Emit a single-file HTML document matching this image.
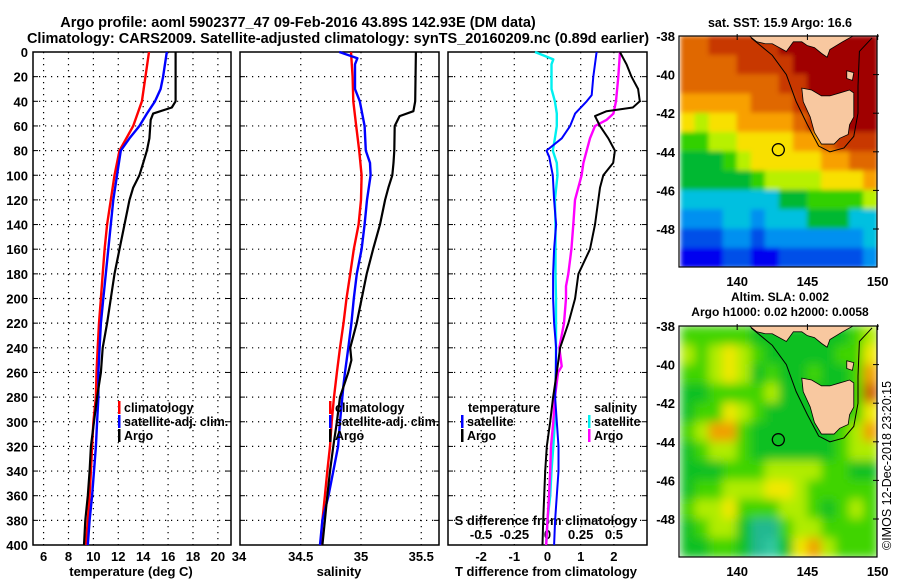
<!DOCTYPE html>
<html><head><meta charset="utf-8">
<style>
html,body{margin:0;padding:0;background:#fff;}
svg{display:block;font-family:"Liberation Sans",Arial,sans-serif;font-weight:bold;}
text{fill:#000;}
</style></head>
<body>
<svg id="fig" width="900" height="580" viewBox="0 0 900 580" xmlns="http://www.w3.org/2000/svg">
<defs>
<filter id="blur2" x="0" y="0" width="1" height="1"><feGaussianBlur stdDeviation="5" edgeMode="duplicate"/></filter>
<filter id="blur1" x="0" y="0" width="1" height="1"><feGaussianBlur stdDeviation="2.5" edgeMode="duplicate"/></filter>
<clipPath id="clipM1"><rect x="679" y="36" width="198" height="231"/></clipPath>
<clipPath id="clipM2"><rect x="679" y="326" width="198" height="231"/></clipPath>
</defs>
<text x="298" y="27" font-size="14.5" text-anchor="middle">Argo profile: aoml 5902377_47 09-Feb-2016 43.89S 142.93E (DM data)</text>
<text x="338" y="43" font-size="14.5" text-anchor="middle">Climatology: CARS2009. Satellite-adjusted climatology: synTS_20160209.nc (0.89d earlier)</text>
<text x="780" y="27" font-size="12.5" text-anchor="middle">sat. SST: 15.9 Argo: 16.6</text>
<text x="780" y="301" font-size="12" text-anchor="middle">Altim. SLA: 0.002</text>
<text x="780" y="316" font-size="12" text-anchor="middle">Argo h1000: 0.02 h2000: 0.0058</text>
<text x="0" y="0" font-size="12.5" transform="translate(891,550) rotate(-90)" font-weight="normal">©IMOS 12-Dec-2018 23:20:15</text>
</svg>
<script>
// ---------- data ----------
const depthTicks = [0,20,40,60,80,100,120,140,160,180,200,220,240,260,280,300,320,340,360,380,400];
const tTicks = [6,8,10,12,14,16,18,20];
const sTicks = [34.5,35,35.5];
const sTickLabels = ["34.5","35","35.5"];
const dTicks = [-2,-1,0,1,2];
const sdTicks = [-0.5,-0.25,0,0.25,0.5];
const sdTickLabels = ["-0.5","-0.25","0","0.25","0.5"];

const climTdep = [0,40,60,80,100,120,140,160,180,200,220,240,260,280,300,320,340,360,380,400];
const climT    = [14.47,13.9,13.2,12.1,11.7,11.4,11.1,10.9,10.75,10.6,10.45,10.35,10.25,10.2,10.0,9.9,9.8,9.7,9.55,9.4];
const satTdep  = [0,20,30,40,50,60,70,80,100,120,140,160,180,200,220,240,260,280,300,320,340,360,380,400];
const satT     = [15.9,15.6,15.4,14.95,14.3,13.7,12.9,12.2,11.9,11.6,11.4,11.2,11.0,10.8,10.6,10.5,10.4,10.4,10.3,10.2,10.05,9.9,9.7,9.55];
const argoTdep = [0,40,45,50,55,70,80,90,100,110,120,140,160,180,200,220,240,260,280,300,320,340,360,380,400];
const argoT    = [16.6,16.6,16.3,14.8,14.6,14.5,14.3,14.0,13.7,13.2,12.9,12.5,12.1,11.7,11.4,11.1,10.75,10.6,10.3,10.05,9.8,9.7,9.55,9.35,9.25];

const climSdep = [0,20,40,60,80,100,120,140,160,180,200,220,240,260,280,300,320,340,360,380,400];
const climS    = [34.917,34.93,34.936,34.96,34.985,35.005,35.0,34.98,34.94,34.91,34.88,34.855,34.826,34.80,34.776,34.757,34.743,34.72,34.70,34.68,34.665];
const satSdep  = [0,5,10,30,40,60,80,90,100,120,140,160,180,200,220,240,260,270,300,320,340,360,380,400];
const satS     = [34.82,34.97,34.95,34.95,34.99,35.03,35.04,35.075,35.08,35.05,35.03,35.005,34.965,34.94,34.92,34.895,34.867,34.855,34.826,34.81,34.77,34.73,34.68,34.66];
const argoSdep = [0,40,48,52,60,80,90,100,110,120,140,160,180,200,220,240,250,260,280,300,320,340,360,380,400];
const argoS    = [35.456,35.45,35.435,35.32,35.28,35.276,35.27,35.26,35.227,35.2,35.158,35.10,35.047,35.006,34.964,34.91,34.92,34.895,34.826,34.80,34.77,34.743,34.72,34.70,34.68];

const satDTdep  = [0,20,35,40,50,60,70,80,85,100,120,140,160,180,200,220,240,260,280,300,320,340,360,380,400];
const satDT     = [1.48,1.38,1.33,1.18,0.83,0.68,0.43,-0.03,0.05,0.16,0.2,0.26,0.2,0.17,0.17,0.2,0.26,0.25,0.23,0.28,0.33,0.33,0.28,0.23,0.2];
const argoDTdep = [0,10,20,30,40,45,48,52,60,70,80,90,100,110,140,160,180,200,220,240,260,280,300,320,340,360,380,400];
const argoDT    = [2.18,2.38,2.53,2.73,2.78,2.57,1.78,1.43,1.58,1.83,2.03,1.98,1.68,1.58,1.43,1.28,0.93,0.83,0.63,0.38,0.28,0.17,0.08,-0.02,-0.07,-0.1,-0.13,-0.15];
const satDSdep  = [0,6,10,30,40,50,60,70,80,90,100,120,140,160,180,200,260,280,300,320,340,360,380,400];
const satDS     = [-0.094,0.044,0.03,0.03,0.056,0.07,0.07,0.056,0.04,0.07,0.075,0.056,0.06,0.06,0.06,0.064,0.064,0.056,0.056,0.044,0.03,0.02,0.0,-0.01];
const argoDSdep = [0,20,40,50,55,60,70,80,90,100,120,140,160,180,190,200,220,240,255,260,280,300,320,340,360,380,400];
const argoDS    = [0.546,0.533,0.516,0.496,0.446,0.358,0.32,0.295,0.27,0.257,0.207,0.194,0.18,0.157,0.139,0.139,0.124,0.089,0.107,0.08,0.056,0.044,0.026,0.02,0.011,0.0,-0.01];

const lonTicks = [140,145,150];
const latTicks = [-38,-40,-42,-44,-46,-48];
const sstGrid = [
[9,9,10,10,10,10,10,11,11,11,11,11,11,11],
[9,9,9,9,10,10,10,10,11,11,11,11,11,11],
[9,9,9,9,9,9,9,10,10,11,11,11,11,11],
[8,8,8,8,8,9,9,9,10,11,11,11,11,11],
[7,6,7,7,8,8,8,8,9,10,10,11,11,11],
[5,5,6,6,7,7,7,7,8,8,9,10,10,10],
[4,4,4,5,6,7,7,7,7,7,8,8,9,9],
[4,4,4,4,4,5,6,6,6,6,7,7,7,8],
[3,3,3,3,3,3,3,4,4,5,5,5,5,6],
[2,2,2,3,3,2,3,3,3,4,4,4,3,3],
[1,1,1,2,2,1,2,2,2,2,2,2,2,3],
[0,0,0,1,1,0,0,1,1,1,1,1,1,2]];
const slaGrid = [
[5,5,5,5,5,4,4,4,4,4,4,4,5,6],
[6,5,6,7,6,5,4,4,4,4,4,5,5,7],
[5,5,6,7,6,4,5,4,4,5,4,4,5,8],
[4,4,5,5,5,5,6,4,4,4,4,4,5,9],
[4,5,5,7,6,5,4,4,4,4,4,4,5,7],
[5,6,8,8,5,4,4,4,4,4,4,5,6,8],
[4,5,6,6,5,4,4,4,4,4,4,5,6,6],
[4,4,4,5,5,5,6,6,6,6,5,5,4,4],
[4,5,5,6,6,6,7,7,6,5,5,5,5,5],
[5,6,6,7,5,5,5,6,6,5,4,5,6,5],
[4,5,6,6,4,3,3,5,6,6,5,5,5,5],
[4,4,5,5,4,3,2,4,7,8,6,5,5,5]];
const sstColors = ["#0000f0","#0050e8","#0090f0","#00c0e0","#00b830","#30d000","#b8f000","#f8e000","#f8a000","#e06800","#c83800","#a00000"];
const slaColors = ["#00a0c0","#00c0c0","#30c8a0","#20b890","#10c020","#40d400","#b0ec00","#f0e800","#f0a000","#d06000"];
const argoLon = 142.93, argoLat = -43.89;

// ---------- helpers ----------
const NS = "http://www.w3.org/2000/svg";
const svg = document.getElementById('fig');
function mk(tag, attrs, parent){ const e=document.createElementNS(NS,tag); for(const k in attrs) e.setAttribute(k,attrs[k]); (parent||svg).appendChild(e); return e; }
function txt(x,y,s,size,anchor){ const t=mk('text',{x:x,y:y,'font-size':size,'text-anchor':anchor||'middle'}); t.textContent=s; return t; }

const yTop=52, yBot=545;
const yD = d => yTop + (d/400)*(yBot-yTop);
const panels = [
  {name:'temperature', x0:33, x1:231, fx: v => 33 + (v-5.15)*12.45},
  {name:'salinity', x0:240, x1:439, fx: v => 240.5 + (v-34)*120.5},
  {name:'difference', x0:448, x1:647, fx: v => 547.5 + v*33.2}
];
const sdX = v => 547.5 + v*4*33.2;

panels.forEach((p,pi)=>{
  const g = mk('g',{});
  
  
  depthTicks.forEach(d=>{
    if(d>0 && d<400){ const l=mk('line',{x1:p.x0,x2:p.x1,y1:yD(d),y2:yD(d),stroke:'#000','stroke-width':1.2,'stroke-dasharray':'1.2 4.8'},g);
        }
    mk('line',{x1:p.x0,x2:p.x0+5,y1:yD(d),y2:yD(d),stroke:'#000'},g);
    mk('line',{x1:p.x1-5,x2:p.x1,y1:yD(d),y2:yD(d),stroke:'#000'},g);
  });
  const vt = pi===0?tTicks:(pi===1?sTicks:dTicks);
  vt.forEach(v=>{ const x=p.fx(v);
    const l=mk('line',{x1:x,x2:x,y1:yTop,y2:yBot,stroke:'#000','stroke-width':1.2,'stroke-dasharray':'1.2 4.8'},g);
     
  });
  const r=mk('rect',{x:p.x0,y:yTop,width:p.x1-p.x0,height:yBot-yTop,fill:'none',stroke:'#000','stroke-width':1.5},g);
  
  
});
depthTicks.forEach(d=>{ const t=txt(28,yD(d)+5,String(d),13,'end');
    });
tTicks.forEach(v=>{ const t=txt(panels[0].fx(v),561,String(v),13);
    });
{ const t=txt(239,561,"34",13);   }
sTicks.forEach((v,i)=>{ const t=txt(panels[1].fx(v),561,sTickLabels[i],13);
    });
dTicks.forEach(v=>{ const t=txt(panels[2].fx(v),561,String(v),13);
    });
sdTicks.forEach((v,i)=>{ const t=txt(sdX(v),539,sdTickLabels[i],13);
    });
[[131,576,"temperature (deg C)","x-axis-title-temperature"],[339,576,"salinity","x-axis-title-salinity"],[546,576,"T difference from climatology","x-axis-title-t-diff"],[546,525,"S difference from climatology","s-diff-axis-title"]].forEach(a=>{
  const t=txt(a[0],a[1],a[2],13);   });

function series(fx, vals, deps, color, w, name){
  const pts = vals.map((v,i)=> fx(v).toFixed(1)+','+yD(deps[i]).toFixed(1)).join(' ');
  const pl = mk('polyline',{points:pts,fill:'none',stroke:color,'stroke-width':w,'stroke-linejoin':'round'});
  
  
}
series(panels[0].fx, climT, climTdep, '#ff0000', 2.4, 'climatology-temperature-line');
series(panels[0].fx, satT, satTdep, '#0000ff', 2.4, 'satellite-temperature-line');
series(panels[0].fx, argoT, argoTdep, '#000000', 2.2, 'argo-temperature-line');
series(panels[1].fx, climS, climSdep, '#ff0000', 2.4, 'climatology-salinity-line');
series(panels[1].fx, satS, satSdep, '#0000ff', 2.4, 'satellite-salinity-line');
series(panels[1].fx, argoS, argoSdep, '#000000', 2.2, 'argo-salinity-line');
series(sdX, satDS, satDSdep, '#00f0f0', 2.4, 'satellite-salinity-diff-line');
series(sdX, argoDS, argoDSdep, '#ff00ff', 2.4, 'argo-salinity-diff-line');
series(panels[2].fx, satDT, satDTdep, '#0000ff', 2, 'satellite-temperature-diff-line');
series(panels[2].fx, argoDT, argoDTdep, '#000000', 2, 'argo-temperature-diff-line');

function legend(x,y,color,label,name){
  const g=mk('g',{});
   
  mk('rect',{x:x,y:y-11,width:2.5,height:13,fill:color},g);
  const t=mk('text',{x:x+6,y:y,'font-size':12.5},g); t.textContent=label;
}
legend(118,412,'#ff0000','climatology','legend-climatology');
legend(118,426,'#0000ff','satellite-adj. clim.','legend-satellite-adj');
legend(118,440,'#000000','Argo','legend-argo');
legend(329,412,'#ff0000','climatology','legend-climatology-salinity');
legend(329,426,'#0000ff','satellite-adj. clim.','legend-satellite-adj-salinity');
legend(329,440,'#000000','Argo','legend-argo-salinity');
{ const t=txt(468,412,'temperature',12.5,'start');   }
legend(461,426,'#0000ff','satellite','legend-temperature-satellite');
legend(461,440,'#000000','Argo','legend-temperature-argo');
{ const t=txt(594,412,'salinity',12.5,'start');   }
legend(588,426,'#00f0f0','satellite','legend-salinity-satellite');
legend(588,440,'#ff00ff','Argo','legend-salinity-argo');

// ---------- maps ----------
const tas = [[144.6,-40.7],[145.3,-40.8],[146.0,-41.1],[146.6,-41.1],[147.3,-40.95],[148.0,-40.8],[148.3,-40.95],[148.3,-41.5],[148.3,-42.2],[148.0,-42.6],[147.9,-43.1],[147.3,-43.3],[146.9,-43.6],[146.0,-43.6],[145.5,-43.0],[145.2,-42.2],[144.7,-41.4]];
const vic = [[140.7,-37.9],[141.4,-38.3],[142.0,-38.4],[142.5,-38.4],[143.5,-38.8],[144.0,-38.3],[144.6,-38.3],[145.0,-38.5],[145.5,-38.6],[146.0,-38.9],[146.4,-39.1],[146.6,-38.7],[147.5,-38.3],[148.5,-37.9]];
const flinders = [[147.8,-39.8],[148.3,-39.9],[148.2,-40.3],[147.8,-40.2]];
const contour = [[141,-38.1],[142.5,-39.0],[143.5,-40.0],[144.2,-41.4],[145.0,-42.6],[145.8,-43.7],[146.6,-44.0],[147.6,-43.8],[148.3,-43.2],[148.6,-42.0],[148.6,-40.6],[148.7,-38.8],[149.6,-38.1]];
function drawMap(y0, grid, colors, filt, clip, prefix){
  const fx = lon => 679 + (lon-135.86)*14.05;
  const fy = lat => y0 + (-38-lat)*19.3;
  const g = mk('g',{'clip-path':'url(#'+clip+')'});
  
  
  const cells = mk('g',{filter:'url(#'+filt+')'},g);
  grid.forEach((row,ri)=>row.forEach((v,ci)=>{
    const r = mk('rect',{x:fx(136+ci)-0.5,y:fy(-38-ri)-0.5,width:15,height:20.3,fill:colors[v]},cells);
    
    
  }));
  const poly = (pts,fill,name)=>{ const p=mk('polygon',{points:pts.map(q=>fx(q[0])+','+fy(q[1])).join(' '),fill:fill,stroke:'#000','stroke-width':0.8},g);
      };
  poly(vic.concat([[148.5,-37],[140.7,-37]]),'#f8c8a0','mainland-land');
  poly(tas,'#f8c8a0','tasmania-land');
  poly(flinders,'#f8c8a0','flinders-island');
  const c=mk('polyline',{points:contour.map(q=>fx(q[0])+','+fy(q[1])).join(' '),fill:'none',stroke:'#000','stroke-width':1},g);
   
  const m=mk('circle',{cx:fx(argoLon),cy:fy(argoLat),r:6,fill:'none',stroke:'#000','stroke-width':1.3});
   
  const fr=mk('rect',{x:679,y:y0,width:198,height:231,fill:'none',stroke:'#000','stroke-width':1.2});
   
  latTicks.forEach(l=>{ const t=txt(675,fy(l)+5,String(l),13,'end');
     
    mk('line',{x1:873,x2:879,y1:fy(l),y2:fy(l),stroke:'#000'}); });
  lonTicks.forEach(l=>{ const t=txt(fx(l),y0+250,String(l),13);
     
    mk('line',{x1:fx(l),x2:fx(l),y1:y0-2,y2:y0+4,stroke:'#000'}); });
}
drawMap(36, sstGrid, sstColors, 'blur1', 'clipM1', 'sst');
drawMap(326, slaGrid, slaColors, 'blur2', 'clipM2', 'sla');
</script>
</body></html>
